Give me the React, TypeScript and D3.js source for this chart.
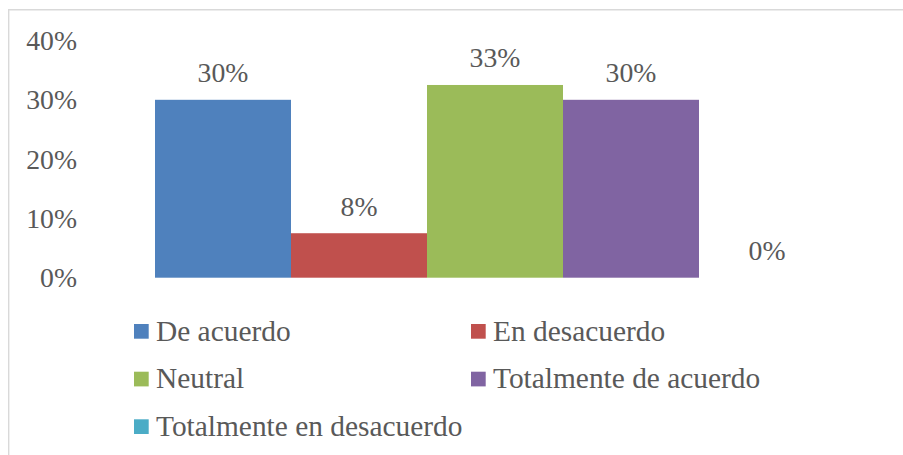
import React from 'react';
import * as d3 from 'd3';

const categories = ['De acuerdo', 'En desacuerdo', 'Neutral', 'Totalmente de acuerdo', 'Totalmente en desacuerdo'];
const values = [0.3, 0.075, 0.325, 0.3, 0];
const valueLabels = ['30%', '8%', '33%', '30%', '0%'];
const colors = ['#4F81BD', '#C0504D', '#9BBB59', '#8064A2', '#4BACC6'];
const yTicks = [0, 0.1, 0.2, 0.3, 0.4];

const W = 903;
const H = 455;
const font = '"Liberation Serif", "Times New Roman", serif';
const textColor = '#595959';

export default function App() {
  // svg pinned to the page corner so nothing scrolls
  const x = d3.scaleBand().domain(categories).range([155, 835]).padding(0);
  const y = d3.scaleLinear().domain([0, 0.4]).range([277.7, 40.5]);
  const fmt = d3.format('.0%');

  const legendCols = [134, 471];
  const legendRows = [340.7, 388.4, 436];

  return (
    <svg width={W} height={H} style={{ display: 'block', position: 'absolute', left: 0, top: 0 }}>
      <rect x={0} y={0} width={W} height={H} fill="#fff" />
      {/* chart border, right and bottom are off the picture */}
      <line x1={8.7} x2={8.7} y1={9.8} y2={H} stroke="#d9d9d9" strokeWidth={1.4} />
      <line x1={8} x2={W} y1={9.8} y2={9.8} stroke="#d9d9d9" strokeWidth={1.4} />

      {yTicks.map(t => (
        <text key={t} x={77} y={y(t) + 9.5} textAnchor="end" fontFamily={font} fontSize={27.7} fill={textColor}>
          {fmt(t)}
        </text>
      ))}

      {categories.map((c, i) => (
        <rect key={c} x={x(c)} y={y(values[i])} width={x.bandwidth()} height={y(0) - y(values[i])} fill={colors[i]} />
      ))}

      {categories.map((c, i) => (
        <text key={c} x={(x(c) ?? 0) + x.bandwidth() / 2} y={y(values[i]) - 17.5} textAnchor="middle"
          fontFamily={font} fontSize={27.7} fill={textColor}>
          {valueLabels[i]}
        </text>
      ))}

      {categories.map((c, i) => {
        const lx = legendCols[i % 2];
        const ly = legendRows[Math.floor(i / 2)];
        return (
          <g key={c}>
            <rect x={lx} y={ly - 16.7} width={14.7} height={14.7} fill={colors[i]} />
            <text x={lx + 22} y={ly} fontFamily={font} fontSize={29.4} fill={textColor}>{c}</text>
          </g>
        );
      })}
    </svg>
  );
}
